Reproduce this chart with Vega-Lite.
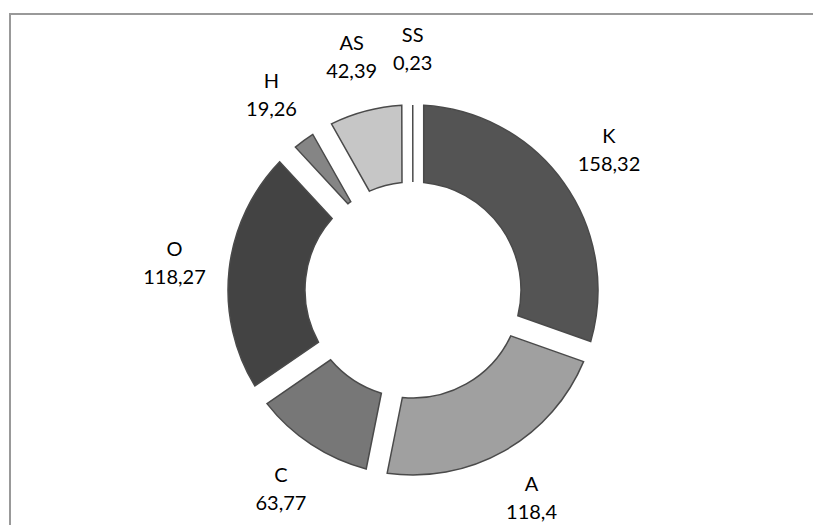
{
  "$schema": "https://vega.github.io/schema/vega-lite/v6.json",
  "width": 806,
  "height": 552,
  "padding": {"left": 10, "top": 14, "right": 0, "bottom": 0},
  "autosize": {"type": "none"},
  "background": "white",
  "config": {
    "view": {"stroke": null},
    "text": {"font": "Lato"}
  },
  "datasets": {
    "slices": [
      {"i": 1, "name": "K", "value": 158.32, "lab": "158,32"},
      {"i": 2, "name": "A", "value": 118.4, "lab": "118,4"},
      {"i": 3, "name": "C", "value": 63.77, "lab": "63,77"},
      {"i": 4, "name": "O", "value": 118.27, "lab": "118,27"},
      {"i": 5, "name": "H", "value": 19.26, "lab": "19,26"},
      {"i": 6, "name": "AS", "value": 42.39, "lab": "42,39"},
      {"i": 7, "name": "SS", "value": 0.23, "lab": "0,23"}
    ],
    "frame": [{"f": 1}]
  },
  "layer": [
    {
      "data": {"name": "frame"},
      "mark": {"type": "rect", "fill": null, "stroke": "#999999", "strokeWidth": 2},
      "encoding": {}
    },
    {
      "data": {"name": "slices"},
      "mark": {"type": "arc", "innerRadius": 108, "outerRadius": 185, "padAngle": 0.1, "stroke": "#4a4a4a", "strokeWidth": 1.5},
      "encoding": {
        "theta": {"field": "value", "type": "quantitative", "stack": true},
        "order": {"field": "i", "type": "quantitative"},
        "color": {
          "field": "name",
          "type": "nominal",
          "scale": {
            "domain": ["K", "A", "C", "O", "H", "AS", "SS"],
            "range": ["#545454", "#a0a0a0", "#777777", "#434343", "#858585", "#c6c6c6", "#6a6a6a"]
          },
          "legend": null
        }
      }
    },
    {
      "data": {"name": "slices"},
      "mark": {"type": "text", "radius": 240, "dy": -14, "fontSize": 20, "color": "#000000", "align": "center", "baseline": "middle"},
      "encoding": {
        "theta": {"field": "value", "type": "quantitative", "stack": true},
        "order": {"field": "i", "type": "quantitative"},
        "text": {"field": "name", "type": "nominal"}
      }
    },
    {
      "data": {"name": "slices"},
      "mark": {"type": "text", "radius": 240, "dy": 14, "fontSize": 20, "color": "#000000", "align": "center", "baseline": "middle"},
      "encoding": {
        "theta": {"field": "value", "type": "quantitative", "stack": true},
        "order": {"field": "i", "type": "quantitative"},
        "text": {"field": "lab", "type": "nominal"}
      }
    }
  ]
}
